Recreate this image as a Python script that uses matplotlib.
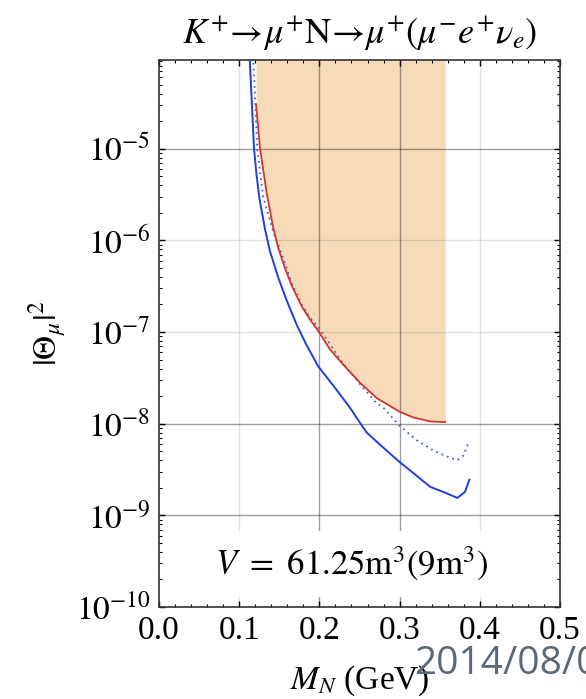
import matplotlib
matplotlib.use("Agg")
import matplotlib.pyplot as plt
from matplotlib.ticker import FixedLocator, LogLocator, NullFormatter, MultipleLocator


# values (mass in GeV, |Theta_mu|^2)
blue_mass = [0.1130, 0.1185, 0.1215, 0.1250, 0.1320, 0.1384, 0.1488, 0.1590, 0.1717, 0.1840,
             0.1987, 0.2174, 0.2380, 0.2527, 0.2590, 0.2756, 0.2995, 0.3170, 0.3380, 0.3587,
             0.3720, 0.3815, 0.3870]
blue_theta = [1.0e-4, 1.0e-5, 5.3e-6, 2.95e-6, 1.35e-6, 7.6e-7, 3.9e-7, 2.24e-7, 1.2e-7, 7.2e-8,
              4.2e-8, 2.6e-8, 1.5e-8, 9.6e-9, 8.0e-9, 5.9e-9, 3.85e-9, 2.9e-9, 2.05e-9, 1.74e-9,
              1.55e-9, 1.8e-9, 2.45e-9]

red_mass = [0.1210, 0.1260, 0.1340, 0.1426, 0.1488, 0.1570, 0.1655, 0.1780, 0.1880, 0.1995,
            0.2130, 0.2298, 0.2506, 0.2715, 0.2995, 0.3170, 0.3380, 0.3570]
red_theta = [3.06e-5, 1.0e-5, 3.4e-6, 1.35e-6, 8.2e-7, 5.0e-7, 3.2e-7, 1.9e-7, 1.38e-7, 1.0e-7,
             6.5e-8, 4.4e-8, 2.8e-8, 1.9e-8, 1.36e-8, 1.17e-8, 1.06e-8, 1.04e-8]

dotted_mass = [0.1176, 0.1225, 0.1300, 0.1430, 0.1550, 0.1655, 0.1780, 0.1880, 0.2007, 0.2298,
               0.2506, 0.2715, 0.2797, 0.2995, 0.3213, 0.3420, 0.3587, 0.3720, 0.3795, 0.3870]
dotted_theta = [1.0e-4, 1.0e-5, 2.95e-6, 1.2e-6, 6.4e-7, 3.4e-7, 2.0e-7, 1.45e-7, 1.07e-7, 4.5e-8,
                2.7e-8, 1.66e-8, 1.5e-8, 9.6e-9, 6.6e-9, 5.1e-9, 4.4e-9, 4.0e-9, 4.5e-9, 6.5e-9]

x_ticks = [0.0, 0.1, 0.2, 0.3, 0.4, 0.5]
y_ticks = [1e-10, 1e-9, 1e-8, 1e-7, 1e-6, 1e-5]
y_tick_labels = [r"$10^{-10}$", r"$10^{-9}$", r"$10^{-8}$", r"$10^{-7}$", r"$10^{-6}$", r"$10^{-5}$"]
dark_xgrid = [0.2, 0.3]
light_xgrid = [0.1, 0.4]
dark_ygrid = [1e-5, 1e-8, 1e-9]
light_ygrid = [1e-6, 1e-7]

Y_MIN = 1e-10
Y_MAX = 9.3e-5

plt.rcParams["mathtext.fontset"] = "stix"
plt.rcParams["font.family"] = ["Liberation Serif", "DejaVu Serif"]

fig = plt.figure(figsize=(5.86, 6.99), dpi=100)
ax = fig.add_axes([159 / 586, 1 - 607 / 699, 401 / 586, 547 / 699])

ax.fill_between(red_mass, red_theta, Y_MAX, color="#f7dbb9", linewidth=0, zorder=1)

for x in light_xgrid:
    ax.axvline(x, color="black", alpha=0.12, linewidth=1.0, zorder=2)
for x in dark_xgrid:
    ax.axvline(x, color="black", alpha=0.38, linewidth=1.0, zorder=2)
for y in light_ygrid:
    ax.axhline(y, color="black", alpha=0.12, linewidth=1.0, zorder=2)
for y in dark_ygrid:
    ax.axhline(y, color="black", alpha=0.38, linewidth=1.0, zorder=2)

ax.plot(dotted_mass, dotted_theta, color="#4a5fd0", linewidth=1.3, linestyle=(0, (1, 2.2)), zorder=3)
ax.plot(red_mass, red_theta, color="#d0362a", linewidth=1.3, zorder=4)
ax.plot(blue_mass, blue_theta, color="#1f3fd8", linewidth=1.4, zorder=4)

ax.set_yscale("log")
ax.set_xlim(0, 0.5)
ax.set_ylim(Y_MIN, Y_MAX)

ax.xaxis.set_major_locator(FixedLocator(x_ticks))
ax.xaxis.set_minor_locator(MultipleLocator(0.02))
ax.set_xticklabels([f"{x:.1f}" for x in x_ticks])
ax.yaxis.set_major_locator(FixedLocator(y_ticks))
ax.yaxis.set_minor_locator(LogLocator(base=10, subs=range(2, 10), numticks=20))
ax.yaxis.set_minor_formatter(NullFormatter())
ax.set_yticklabels(y_tick_labels)

ax.tick_params(which="both", direction="in", top=True, right=True, labelsize=24, pad=6)
ax.tick_params(which="major", length=4, width=1.0)
ax.tick_params(which="minor", length=2, width=0.8)
for spine in ax.spines.values():
    spine.set_linewidth(1.2)
    spine.set_color("#333333")

ax.set_title(r"$K^{+}\!\rightarrow\!\mu^{+}\mathrm{N}\!\rightarrow\!\mu^{+}(\mu^{-}e^{+}\nu_{e})$",
             fontsize=26, pad=12)

ax.set_xlabel(r"$M_N$ (GeV)", fontsize=24)
ax.xaxis.label.set_va("center")
ax.xaxis.set_label_coords(0.5, -0.135)
ax.set_ylabel(r"$|\Theta_{\mu}|^{2}$", fontsize=24)
ax.yaxis.label.set_va("center")
ax.yaxis.set_label_coords(-0.277, 0.5)

ax.text(0.2406, 2.95e-10, r"$V\ =\ 61.25\mathrm{m}^{3}(9\mathrm{m}^{3})$", fontsize=25,
        ha="center", va="center", zorder=5,
        bbox=dict(facecolor="white", edgecolor="none", pad=10))

fig.text(414 / 586, 1 - 664 / 699, "2014/08/0", fontsize=28, color="#5d6877",
         family=["Open Sans", "DejaVu Sans"], ha="left", va="center")

fig.savefig("out.png", dpi=100)
